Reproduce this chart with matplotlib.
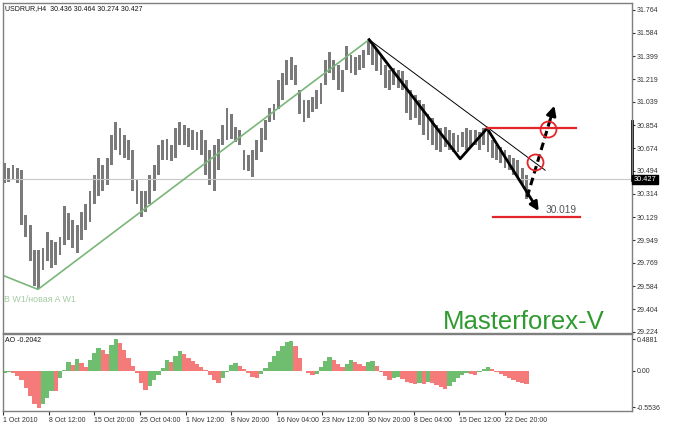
import matplotlib.pyplot as plt
import numpy as np

plt.rcParams['font.family'] = ['Liberation Sans', 'DejaVu Sans']

# USDRUR H4, price bars (each entry = 3 H4 bars)
high = [30.56, 30.52, 30.54, 30.52, 30.50, 30.15, 30.07, 29.87, 29.87, 29.89,
        30.01, 29.95, 29.93, 29.97, 30.22, 30.16, 30.11, 30.07, 30.17, 30.23,
        30.34, 30.46, 30.60, 30.54, 30.60, 30.78, 30.88, 30.83, 30.78, 30.74,
        30.66, 30.42, 30.34, 30.34, 30.46, 30.54, 30.70, 30.74, 30.75, 30.70,
        30.83, 30.88, 30.86, 30.83, 30.82, 30.80, 30.82, 30.74, 30.66, 30.70,
        30.75, 30.86, 30.99, 30.94, 30.84, 30.82, 30.66, 30.62, 30.66, 30.74,
        30.83, 30.90, 30.99, 31.02, 31.21, 31.27, 31.37, 31.39, 31.33, 31.13,
        31.05, 31.05, 31.08, 31.13, 31.19, 31.37, 31.43, 31.37, 31.33, 31.29,
        31.48, 31.41, 31.39, 31.41, 31.45, 31.53, 31.49, 31.45, 31.41, 31.33,
        31.29, 31.31, 31.29, 31.28, 31.21, 31.13, 31.09, 31.05, 31.02, 30.94,
        30.91, 30.86, 30.83, 30.84, 30.82, 30.79, 30.78, 30.80, 30.83, 30.82,
        30.82, 30.80, 30.83, 30.82, 30.74, 30.70, 30.68, 30.66, 30.62, 30.60,
        30.58, 30.52, 30.46]
low = [30.40, 30.41, 30.42, 30.40, 30.07, 29.97, 29.78, 29.59, 29.56, 29.71,
       29.78, 29.73, 29.75, 29.83, 29.91, 29.95, 29.89, 29.85, 29.95, 30.03,
       30.09, 30.23, 30.30, 30.34, 30.38, 30.54, 30.66, 30.62, 30.60, 30.58,
       30.34, 30.23, 30.13, 30.17, 30.23, 30.34, 30.46, 30.58, 30.58, 30.57,
       30.60, 30.70, 30.70, 30.68, 30.66, 30.66, 30.62, 30.46, 30.38, 30.34,
       30.50, 30.70, 30.74, 30.75, 30.72, 30.70, 30.50, 30.49, 30.45, 30.58,
       30.64, 30.74, 30.88, 30.90, 30.98, 31.05, 31.17, 31.21, 31.17, 30.94,
       30.88, 30.91, 30.96, 30.98, 31.02, 31.17, 31.27, 31.21, 31.13, 31.12,
       31.29, 31.27, 31.25, 31.29, 31.31, 31.41, 31.33, 31.28, 31.25, 31.15,
       31.13, 31.17, 31.15, 31.13, 30.95, 30.90, 30.91, 30.86, 30.78, 30.74,
       30.70, 30.66, 30.64, 30.68, 30.66, 30.64, 30.64, 30.68, 30.66, 30.68,
       30.70, 30.66, 30.70, 30.64, 30.60, 30.58, 30.56, 30.52, 30.50, 30.46,
       30.45, 30.38, 30.27]

# Awesome Oscillator
ao = [-0.03, -0.02, -0.03, -0.08, -0.14, -0.26, -0.38, -0.50, -0.56, -0.50,
      -0.41, -0.30, -0.31, -0.11, 0.02, 0.14, 0.09, 0.18, 0.12, 0.06,
      0.17, 0.28, 0.35, 0.32, 0.26, 0.40, 0.49, 0.43, 0.32, 0.20,
      0.08, -0.03, -0.18, -0.29, -0.23, -0.14, -0.06, 0.05, 0.17, 0.14,
      0.23, 0.31, 0.26, 0.20, 0.15, 0.11, 0.06, 0.02, -0.06, -0.14,
      -0.18, -0.11, -0.02, 0.09, 0.12, 0.08, 0.03, -0.03, -0.09, -0.11,
      -0.05, 0.05, 0.14, 0.23, 0.31, 0.38, 0.44, 0.46, 0.38, 0.20,
      0.00, -0.03, -0.06, -0.05, 0.06, 0.15, 0.21, 0.17, 0.11, 0.06,
      0.11, 0.17, 0.14, 0.11, 0.08, 0.14, 0.15, 0.08, -0.02, -0.08,
      -0.14, -0.11, -0.09, -0.12, -0.17, -0.18, -0.20, -0.18, -0.20, -0.17,
      -0.18, -0.21, -0.24, -0.28, -0.23, -0.17, -0.11, -0.06, -0.03, -0.05,
      -0.06, -0.02, 0.03, 0.06, 0.03, -0.02, -0.05, -0.08, -0.11, -0.14,
      -0.17, -0.18, -0.20]

date_labels = ['1 Oct 2010', '8 Oct 12:00', '15 Oct 20:00', '25 Oct 04:00',
               '1 Nov 12:00', '8 Nov 20:00', '16 Nov 04:00', '23 Nov 12:00',
               '30 Nov 20:00', '8 Dec 04:00', '15 Dec 12:00', '22 Dec 20:00']
date_bars = [0, 32, 64, 96, 128, 160, 192, 224, 256, 288, 320, 352]
price_ticks = [31.764, 31.584, 31.399, 31.219, 31.039, 30.854, 30.674, 30.494,
               30.314, 30.129, 29.949, 29.769, 29.584, 29.404, 29.224]
ao_ticks = [0.4881, 0.0, -0.5536]
last_price = 30.427

# drawn wave markup (bar index, price)
green_wave = [(0, 29.67), (24.5, 29.56), (256.7, 31.53)]
trend_line = [(256.7, 31.53), (380.1, 30.50)]
zigzag = [(256.7, 31.53), (320.5, 30.59), (339.4, 30.83), (376.6, 30.16)]
up_arrow = [(367.5, 30.29), (387.1, 31.03)]
level_top = [(339.4, 30.833), (401.8, 30.833)]
level_bottom = [(343.6, 30.131), (404.6, 30.131)]
circles = [(382.2, 30.825), (373.1, 30.565)]

xs = np.arange(len(high)) * 3 + 1
high = np.array(high)
low = np.array(low)
ao = np.array(ao)

fig = plt.figure(figsize=(6.88, 4.25), dpi=100)
ax = fig.add_axes([3/688, 1 - 333/425, 629/688, 330/425])
ax2 = fig.add_axes([3/688, 1 - 411/425, 629/688, 77/425])

grey = '#7f7f7f'
for a in (ax, ax2):
    a.set_xlim(0, 441)
    for s in a.spines.values():
        s.set_color(grey)
        s.set_linewidth(1)
    a.yaxis.tick_right()
    a.tick_params(axis='y', labelsize=5, length=2, pad=1.5, colors='#333333')

# price panel
ax.set_ylim(29.216, 31.819)
ax.axhline(last_price, color='#c8c8c8', lw=0.8)
ax.bar(xs, high - low, bottom=low, width=2.0, color='#7a7a7a', linewidth=0)
ax.set_xticks([])
ax.set_yticks(price_ticks)
ax.set_yticklabels(['%.3f' % v for v in price_ticks])

gx, gy = zip(*green_wave)
ax.plot(gx, gy, color='#7ab67a', lw=1.2)
tx, ty = zip(*trend_line)
ax.plot(tx, ty, color='k', lw=0.7)
zx, zy = zip(*zigzag)
ax.plot(zx[:-1], zy[:-1], color='k', lw=2)
ax.annotate('', xy=zigzag[-1], xytext=zigzag[-2],
            arrowprops=dict(arrowstyle='-|>', color='k', lw=2, mutation_scale=13))
(ux0, uy0), (ux1, uy1) = up_arrow
ax.plot([ux0, ux0 + 0.86 * (ux1 - ux0)], [uy0, uy0 + 0.86 * (uy1 - uy0)],
        color='k', lw=2.2, ls=(0, (2.5, 1.5)))
ax.annotate('', xy=(ux1, uy1), xytext=(ux0 + 0.8 * (ux1 - ux0), uy0 + 0.8 * (uy1 - uy0)),
            arrowprops=dict(arrowstyle='-|>', color='k', lw=2, mutation_scale=14))
for lv in (level_top, level_bottom):
    lx, ly = zip(*lv)
    ax.plot(lx, ly, color='#e3242b', lw=1.6)
for cx, cy in circles:
    ax.plot(cx, cy, 'o', ms=11.5, mfc='none', mec='#e3242b', mew=1.3)
ax.text(391, 30.19, '30.019', fontsize=7.3, color='#555555', ha='center', va='center')

ax.text(0.003, 0.994, 'USDRUR,H4  30.436 30.464 30.274 30.427', transform=ax.transAxes,
        fontsize=5, va='top', ha='left', color='#111111')
ax.text(0.002, 0.1, 'B W1/новая A W1', transform=ax.transAxes, fontsize=6.4,
        color='#a4cca4', va='center', ha='left')
fig.text(443/688, 1 - 329/425, 'Masterforex-V', fontsize=18.5, color='#2f9a2f',
         ha='left', va='baseline')

# current price marker on scale
ax.plot([441, 441], [30.888, 30.423], color='k', lw=2, clip_on=False)
ax.text(1.003, last_price, '30.427', transform=ax.get_yaxis_transform(), fontsize=5.3,
        color='white', va='center', ha='left',
        bbox=dict(boxstyle='square,pad=0.2', fc='black', ec='black'))

# AO panel
ax2.set_ylim(-0.612, 0.566)
prev = np.concatenate([[ao[0]], ao[:-1]])
colors = np.where(ao >= prev, '#6fbd6f', '#f57a7a')
ax2.bar(xs, ao, width=3, color=colors, linewidth=0)
ax2.set_yticks(ao_ticks)
ax2.set_yticklabels(['0.4881', '0.00', '-0.5536'])
ax2.set_xticks(date_bars)
ax2.set_xticklabels(date_labels, ha='left')
ax2.tick_params(axis='x', labelsize=5, length=3, pad=1, colors='#333333')
ax2.text(0.003, 0.96, 'AO -0.2042', transform=ax2.transAxes, fontsize=5,
         va='top', ha='left', color='#111111')

fig.savefig('out.png', dpi=100)
